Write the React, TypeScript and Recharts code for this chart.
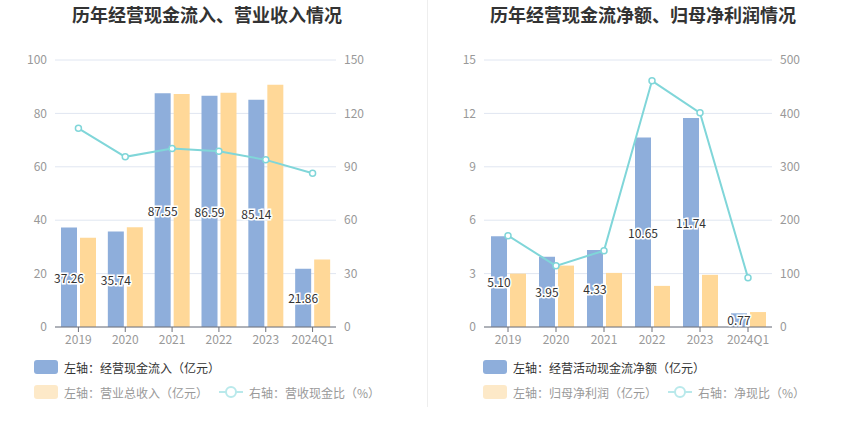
import React from "react";
import {
  ComposedChart,
  Bar,
  Line,
  XAxis,
  YAxis,
  CartesianGrid,
  LabelList,
} from "recharts";

const categories = ["2019", "2020", "2021", "2022", "2023", "2024Q1"];

// Left chart
const cashInflow = [37.26, 35.74, 87.55, 86.59, 85.14, 21.86];
const revenue = [33.4, 37.4, 87.3, 87.7, 90.7, 25.3];
const cashRevenueRatio = [111.6, 95.6, 100.3, 98.7, 93.9, 86.4];
const leftTicksL = [0, 20, 40, 60, 80, 100];
const leftTicksR = [0, 30, 60, 90, 120, 150];

// Right chart
const netOpCash = [5.1, 3.95, 4.33, 10.65, 11.74, 0.77];
const netProfit = [3.0, 3.45, 3.04, 2.31, 2.93, 0.84];
const netCashRatio = [171, 114.5, 143, 461, 401, 92];
const rightTicksL = [0, 3, 6, 9, 12, 15];
const rightTicksR = [0, 100, 200, 300, 400, 500];

const leftData = categories.map((c, i) => ({
  name: c,
  a: cashInflow[i],
  b: revenue[i],
  r: cashRevenueRatio[i],
}));
const rightData = categories.map((c, i) => ({
  name: c,
  a: netOpCash[i],
  b: netProfit[i],
  r: netCashRatio[i],
}));

const FONT = '"Noto Sans CJK SC", "Noto Sans", sans-serif';
const BLUE = "#8eaedb";
const YELLOW = "#ffd898";
const TEAL = "#80d6d9";
const GRID = "#e0e6f1";
const AXIS = "#6e7079";
const TICK = "#999999";

const renderLabel = (props: any) => {
  const { x, y, width, height, value } = props;
  const cx = Number(x) + Number(width) / 2;
  const cy = Math.min(Number(y) + Number(height) / 2, Number(y) + Number(height) - 8);
  return (
    <text
      x={cx}
      y={cy}
      textAnchor="middle"
      dominantBaseline="central"
      fontSize={12}
      fontFamily={FONT}
      fill="#333"
      stroke="#fff"
      strokeWidth={3}
      paintOrder="stroke"
    >
      {Number(value).toFixed(2)}
    </text>
  );
};

type PanelProps = {
  data: any[];
  left: number;
  leftAxisWidth: number;
  rightMargin: number;
  domL: [number, number];
  domR: [number, number];
  ticksL: number[];
  ticksR: number[];
  title: string;
  titleCenter: number;
  legend1: string;
  legend2: string;
  legend3: string;
  legendX: number;
  legendLineX: number;
};

const Panel = (p: PanelProps) => {
  const tickStyle = { fill: TICK, fontSize: 12, fontFamily: FONT };
  return (
    <div style={{ position: "absolute", left: p.left, top: 0, width: 425, height: 437 }}>
      <ComposedChart
        width={425}
        height={437}
        data={p.data}
        margin={{ top: 60, right: p.rightMargin, bottom: 80, left: 0 }}
        barGap={3}
        barSize={16}
      >
        <CartesianGrid yAxisId="l" vertical={false} stroke={GRID} />
        <XAxis
          dataKey="name"
          height={30}
          axisLine={{ stroke: AXIS }}
          tickLine={{ stroke: AXIS }}
          tickSize={5}
          tickMargin={3}
          tick={tickStyle}
          interval={0}
        />
        <YAxis
          yAxisId="l"
          width={p.leftAxisWidth}
          domain={p.domL}
          ticks={p.ticksL}
          axisLine={false}
          tickLine={false}
          tickSize={0}
          tickMargin={8}
          tick={tickStyle}
        />
        <YAxis
          yAxisId="r"
          orientation="right"
          width={50}
          domain={p.domR}
          ticks={p.ticksR}
          axisLine={false}
          tickLine={false}
          tickSize={0}
          tickMargin={8}
          tick={{ ...tickStyle, textAnchor: "start" }}
        />
        <Bar yAxisId="l" dataKey="a" fill={BLUE} isAnimationActive={false}>
          <LabelList dataKey="a" content={renderLabel} />
        </Bar>
        <Bar yAxisId="l" dataKey="b" fill={YELLOW} isAnimationActive={false} />
        <Line
          yAxisId="r"
          dataKey="r"
          type="linear"
          stroke={TEAL}
          strokeWidth={2}
          dot={{ r: 3, fill: "#fff", stroke: TEAL, strokeWidth: 1.5 }}
          isAnimationActive={false}
        />
      </ComposedChart>
      <div
        style={{
          position: "absolute",
          left: p.titleCenter - 200,
          width: 400,
          top: 2,
          textAlign: "center",
          fontFamily: FONT,
          fontWeight: "bold",
          fontSize: 18,
          lineHeight: "24px",
          color: "#333",
        }}
      >
        {p.title}
      </div>
      <div
        style={{
          position: "absolute",
          left: p.legendX,
          top: 360,
          height: 14,
          display: "flex",
          alignItems: "center",
          fontFamily: FONT,
          fontSize: 12,
          color: "#333",
          whiteSpace: "nowrap",
        }}
      >
        <span
          style={{ display: "inline-block", width: 24, height: 14, borderRadius: 3, background: BLUE, marginRight: 6 }}
        />
        <span>{p.legend1}</span>
      </div>
      <div
        style={{
          position: "absolute",
          left: p.legendX,
          top: 385,
          height: 14,
          display: "flex",
          alignItems: "center",
          fontFamily: FONT,
          fontSize: 12,
          color: "#999",
          whiteSpace: "nowrap",
        }}
      >
        <span
          style={{ display: "inline-block", width: 24, height: 14, borderRadius: 3, background: "#fde9c8", marginRight: 6 }}
        />
        <span>{p.legend2}</span>
      </div>
      <div
        style={{
          position: "absolute",
          left: p.legendLineX,
          top: 385,
          height: 14,
          display: "flex",
          alignItems: "center",
          fontFamily: FONT,
          fontSize: 12,
          color: "#999",
          whiteSpace: "nowrap",
        }}
      >
        <svg width={24} height={14} style={{ marginRight: 6 }}>
          <line x1={0} y1={7} x2={24} y2={7} stroke="#b9e9eb" strokeWidth={2} />
          <circle cx={12} cy={7} r={5} fill="#fff" stroke="#b9e9eb" strokeWidth={2} />
        </svg>
        <span>{p.legend3}</span>
      </div>
    </div>
  );
};

export default function App() {
  return (
    <div style={{ position: "absolute", left: 0, top: 0, width: 850, height: 437, background: "#fff" }}>
      <Panel
        data={leftData}
        left={0}
        leftAxisWidth={55}
        rightMargin={39}
        domL={[0, 100]}
        domR={[0, 150]}
        ticksL={leftTicksL}
        ticksR={leftTicksR}
        title="历年经营现金流入、营业收入情况"
        titleCenter={207}
        legend1="左轴：经营现金流入（亿元）"
        legend2="左轴：营业总收入（亿元）"
        legend3="右轴：营收现金比（%）"
        legendX={34}
        legendLineX={219}
      />
      <div
        style={{ position: "absolute", left: 427, top: 0, width: 1, height: 407, background: "#eeeeee" }}
      />
      <Panel
        data={rightData}
        left={425}
        leftAxisWidth={59}
        rightMargin={28}
        domL={[0, 15]}
        domR={[0, 500]}
        ticksL={rightTicksL}
        ticksR={rightTicksR}
        title="历年经营现金流净额、归母净利润情况"
        titleCenter={218}
        legend1="左轴：经营活动现金流净额（亿元）"
        legend2="左轴：归母净利润（亿元）"
        legend3="右轴：净现比（%）"
        legendX={58}
        legendLineX={243}
      />
    </div>
  );
}
